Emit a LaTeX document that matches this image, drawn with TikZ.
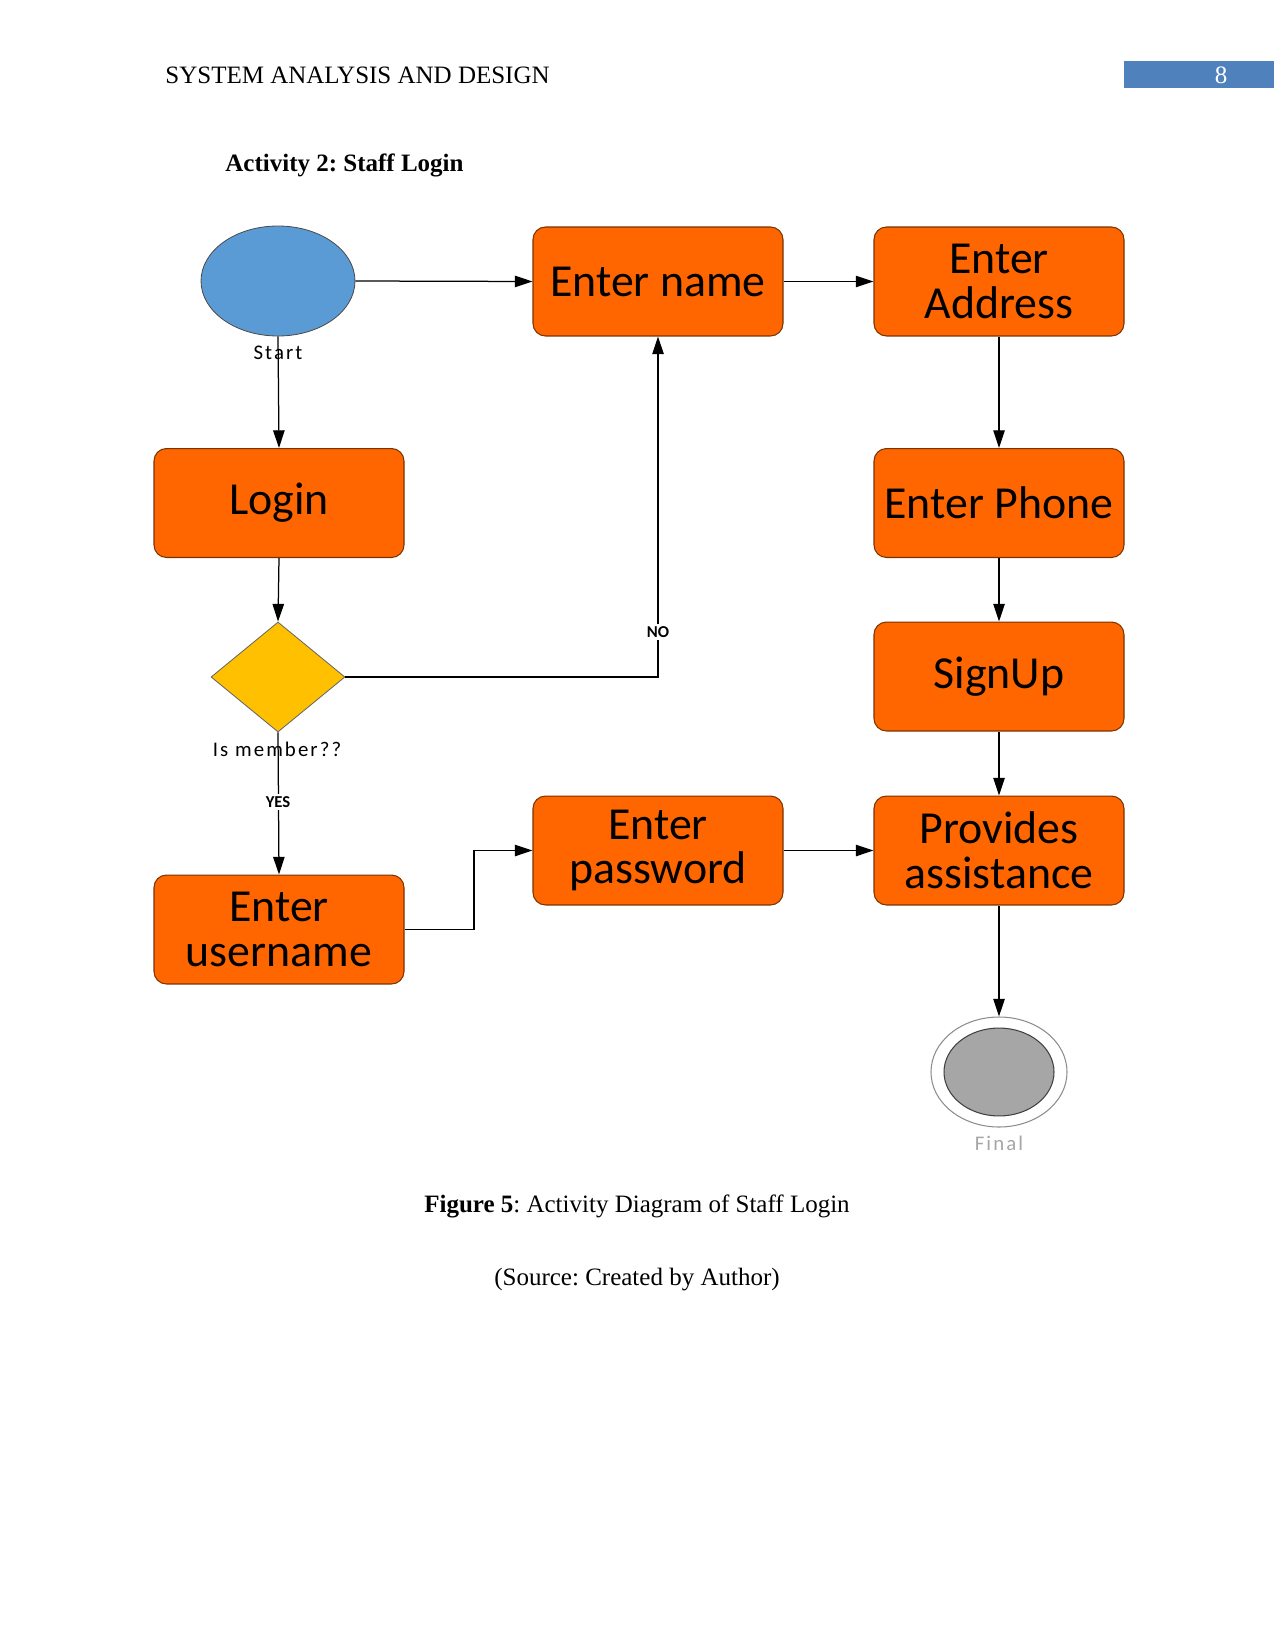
\documentclass[tikz,border=0pt]{standalone}
\usepackage{fontspec}
\setmainfont{Liberation Serif}
\newfontfamily\boxfont{Carlito}
\newfontfamily\lblfont[LetterSpace=10]{Carlito}
\usetikzlibrary{shapes.geometric,arrows.meta}
\definecolor{actorange}{HTML}{FF6600}
\definecolor{actedge}{HTML}{7A3300}
\definecolor{startblue}{HTML}{5B9BD5}
\definecolor{decgold}{HTML}{FFC000}
\definecolor{finalgray}{HTML}{A6A6A6}
\definecolor{pagebox}{HTML}{4F81BD}
\frenchspacing
\begin{document}
\begin{tikzpicture}[x=0.48pt,y=-0.48pt,
  actbox/.style={draw=actedge, line width=0.5pt, fill=actorange, rounded corners=6pt,
    minimum width=120pt, minimum height=52.3pt, inner sep=2pt, align=center,
    font=\boxfont\fontsize{22}{21.5}\selectfont},
  arr/.style={-{Triangle[length=8.5pt,width=5.5pt]}, line width=0.6pt},
  lbl/.style={font=\lblfont\fontsize{10}{12}\selectfont, inner sep=1pt},
  guard/.style={font=\boxfont\bfseries\fontsize{8}{10}\selectfont, fill=white, inner sep=1pt},
  page/.style={font=\fontsize{12}{14}\selectfont, inner sep=0pt}
]
\useasboundingbox (0,0) rectangle (1275,1651);

% header
\node[page, anchor=west] (hdr) at (165,75) {SYSTEM ANALYSIS AND DESIGN};
\node[fill=pagebox, minimum width=72pt, minimum height=13pt, inner sep=0pt] (pgbox) at (1199,74.5) {};
\node[page, text=white] (pgnum) at (1221,75) {8};
\node[page, anchor=west, font=\bfseries\fontsize{12}{14}\selectfont] (title) at (225,165) {Activity 2: Staff Login};

% nodes
\node[ellipse, draw=black!70, line width=0.4pt, fill=startblue, minimum width=73.9pt, minimum height=52.8pt, inner sep=0pt] (start) at (278,281) {};
\node[actbox] (ename) at (658,281.5) {Enter name};
\node[actbox] (addr) at (999,281.5) {Enter\\Address};
\node[actbox] (login) at (279,503) {Login};
\node[actbox] (phone) at (999,503) {Enter Phone};
\node[diamond, draw=black!60, line width=0.4pt, fill=decgold, minimum width=64.3pt, minimum height=52.8pt, inner sep=0pt] (dec) at (278,677) {};
\node[actbox] (signup) at (999,676.5) {SignUp};
\node[actbox] (user) at (279,929.5) {Enter\\username};
\node[actbox] (pass) at (658,850.5) {Enter\\password};
\node[actbox] (prov) at (999,850.5) {Provides\\assistance};
\node[ellipse, draw=black!45, line width=0.5pt, fill=white, minimum width=65.3pt, minimum height=52.8pt, inner sep=0pt] (fin) at (999,1072) {};
\node[ellipse, draw=black!75, line width=0.5pt, fill=finalgray, minimum width=52.8pt, minimum height=42.2pt, inner sep=0pt] (finin) at (999,1072) {};

% labels under lines
\node[lbl] (startl) at (278,353) {Start};
\node[lbl] (decl) at (277,749) {Is member??};
\node[lbl, text=black!35] (finl) at (999,1143) {Final};

% connectors
\draw[arr] (start.east) -- (ename.west);
\draw[arr] (ename.east) -- (addr.west);
\draw[arr] (start.south) -- (login.north);
\draw[arr] (addr.south) -- (phone.north);
\draw[arr] (login.south) -- (dec.north);
\draw[arr] (phone.south) -- (signup.north);
\draw[arr] (dec.east) -| (ename.south);
\draw[arr] (dec.south) -- (user.north);
\coordinate (bend) at (474,929.5);
\draw[arr] (user.east) -- (bend) |- (pass.west);
\draw[arr] (pass.east) -- (prov.west);
\draw[arr] (signup.south) -- (prov.north);
\draw[arr] (prov.south) -- (fin.north);

% guard labels
\node[guard] (no) at (658,632) {NO};
\node[guard] (yes) at (278,802) {YES};

% caption
\node[page] (cap) at (637,1206) {\textbf{Figure 5}: Activity Diagram of Staff Login};
\node[page] (src) at (637,1280) {(Source: Created by Author)};
\end{tikzpicture}
\end{document}
